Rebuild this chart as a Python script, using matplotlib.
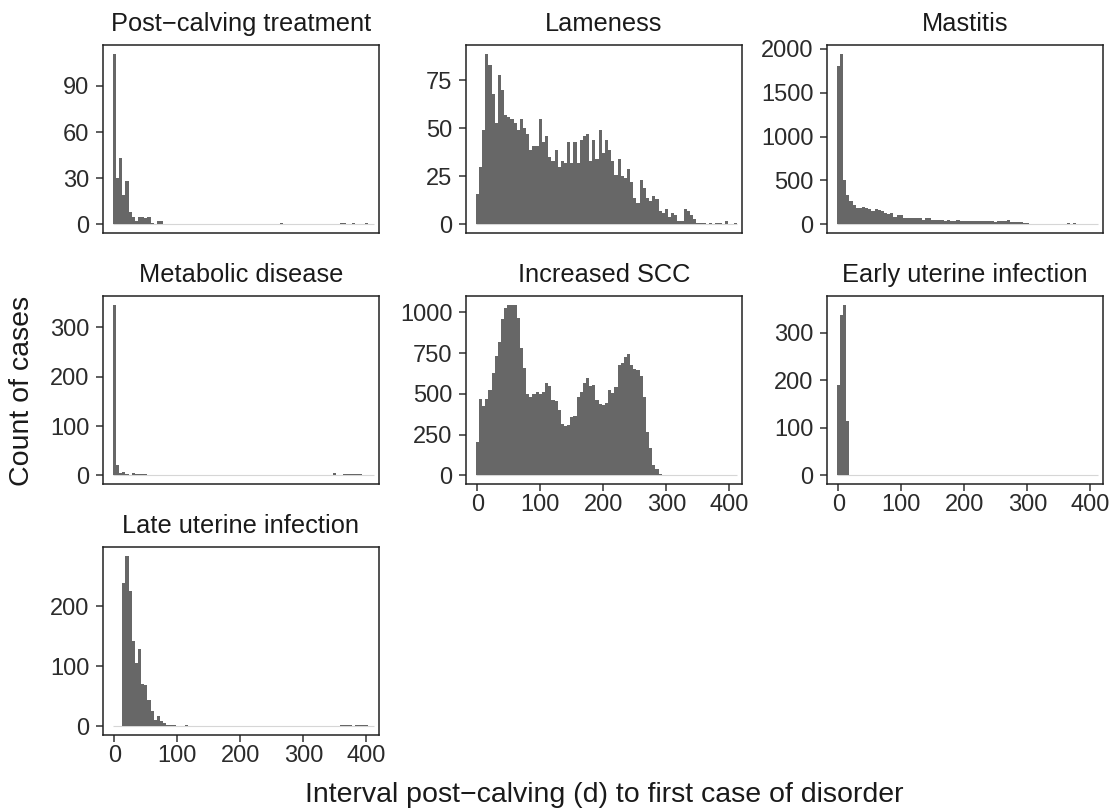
import numpy as np
import matplotlib
matplotlib.use('Agg')
import matplotlib.pyplot as plt

plt.rcParams['font.family'] = ['Liberation Sans', 'DejaVu Sans']

# counts per 5-day bin, bins centred on 0, 5, 10, ... 410
bin_width = 5
n_bins = 83


def sparse(d):
    out = [0] * n_bins
    for k, v in d.items():
        out[k] = v
    return out


post_calving = sparse({0: 111, 1: 30, 2: 43, 3: 19, 4: 28, 5: 8, 6: 5, 7: 2, 8: 5, 9: 5,
                       10: 4, 11: 5, 12: 1, 14: 2, 15: 2, 53: 1, 72: 1, 73: 1, 76: 1, 80: 1})

lameness = [16, 30, 49, 89, 83, 68, 53, 78, 70, 57,
            56, 55, 53, 49, 55, 50, 47, 39, 41, 41,
            55, 43, 46, 35, 33, 39, 30, 33, 32, 43,
            32, 43, 32, 44, 46, 47, 33, 44, 34, 49,
            37, 44, 39, 33, 26, 34, 25, 24, 29, 22,
            14, 11, 23, 19, 14, 12, 15, 13, 7, 6,
            8, 4, 6, 5, 2, 2, 8, 7, 5, 3,
            1, 1, 1, 0, 1, 0, 1, 1, 0, 2,
            0, 0, 1]

mastitis = [1805, 1944, 508, 331, 271, 222, 184, 184, 195, 184,
            180, 158, 180, 162, 150, 128, 120, 128, 83, 113,
            105, 79, 79, 71, 79, 71, 71, 56, 79, 79,
            56, 53, 56, 56, 41, 45, 38, 38, 45, 40,
            43, 43, 40, 38, 38, 36, 36, 34, 38, 34,
            30, 38, 34, 36, 49, 30, 26, 26, 24, 22,
            15, 5, 4, 4, 4, 3, 4, 3, 3, 4,
            3, 3, 4, 22, 8, 15, 6, 5, 6, 5,
            5, 4, 3]

metabolic = sparse({0: 346, 1: 21, 2: 5, 3: 8, 4: 3, 6: 5, 7: 2, 8: 3, 9: 3, 10: 3,
                    15: 1, 29: 1, 37: 1, 40: 1, 42: 1, 60: 1, 69: 1, 70: 4, 71: 1,
                    73: 3, 74: 2, 75: 2, 76: 2, 77: 2, 78: 2, 80: 1})

increased_scc = [207, 470, 423, 470, 524, 626, 732, 815, 961, 1028,
                 1047, 1043, 1043, 967, 778, 656, 498, 478, 500, 512,
                 500, 512, 565, 551, 463, 457, 402, 317, 305, 311,
                 356, 366, 480, 510, 565, 596, 551, 555, 463, 439,
                 429, 443, 524, 504, 541, 677, 691, 728, 744, 677,
                 650, 646, 610, 480, 266, 169, 67, 37, 10, 4,
                 2, 2, 2] + [0] * 20

early_uterine = sparse({0: 190, 1: 336, 2: 359, 3: 115})

late_uterine = sparse({3: 239, 4: 284, 5: 225, 6: 142, 7: 106, 8: 129, 9: 70, 10: 69,
                       11: 44, 12: 26, 13: 11, 14: 17, 15: 9, 16: 6, 17: 3, 18: 3, 19: 3,
                       21: 1, 22: 1, 23: 3, 24: 1, 33: 1, 34: 1, 41: 1, 44: 1, 59: 1,
                       64: 1, 65: 1, 67: 1, 68: 1, 69: 1, 70: 1, 71: 1, 72: 2, 73: 2,
                       74: 2, 75: 2, 76: 1, 77: 3, 78: 3, 79: 3, 80: 2, 81: 1})

titles = ['Post\u2212calving treatment', 'Lameness', 'Mastitis', 'Metabolic disease',
          'Increased SCC', 'Early uterine infection', 'Late uterine infection']
counts = [post_calving, lameness, mastitis, metabolic, increased_scc,
          early_uterine, late_uterine]
yticks = [[0, 30, 60, 90], [0, 25, 50, 75], [0, 500, 1000, 1500, 2000],
          [0, 100, 200, 300], [0, 250, 500, 750, 1000], [0, 100, 200, 300],
          [0, 100, 200]]
xticks = [0, 100, 200, 300, 400]

edges = -bin_width / 2 + bin_width * np.arange(n_bins + 1)

W, H = 1114, 811
fig = plt.figure(figsize=(W / 100, H / 100), dpi=100)

col_left = [103, 466, 827]
row_top = [45, 296, 547]
pw, ph = 276, 188
bar_col = '#676767'
txt_col = '#2b2b2b'

for i, (title, c) in enumerate(zip(titles, counts)):
    r, k = divmod(i, 3)
    ax = fig.add_axes([col_left[k] / W, 1 - (row_top[r] + ph) / H, pw / W, ph / H])
    c = np.array(c)
    ax.hlines(0, edges[0], edges[-1], color='#d6d6d6', lw=0.8, zorder=1)
    ax.stairs(c, edges, fill=True, color=bar_col, lw=0, zorder=2)
    top = c.max()
    ax.set_ylim(-0.05 * top, 1.05 * top)
    ax.set_xlim(-18, 420)
    ax.set_yticks(yticks[i])
    ax.set_title(title, fontsize=18.3, pad=10, color='#1a1a1a')
    # only the bottom panel of each column keeps x ticks
    if i in (4, 5, 6):
        ax.set_xticks(xticks)
    else:
        ax.set_xticks([])
    ax.tick_params(axis='both', length=4.8, width=1.1, color='#333333',
                   labelsize=17, labelcolor=txt_col)
    ax.tick_params(axis='y', pad=5)
    ax.tick_params(axis='x', pad=2.5)
    for s in ax.spines.values():
        s.set_color('#222222')
        s.set_linewidth(1.1)

fig.text(22 / W, 1 - 391 / H, 'Count of cases', rotation=90, ha='center', va='center',
         fontsize=20.5, color='#1a1a1a')
fig.text(604 / W, 8.5 / H, 'Interval post\u2212calving (d) to first case of disorder',
         ha='center', va='baseline', fontsize=20.5, color='#1a1a1a')

fig.savefig('out.png', dpi=100, facecolor='white')
